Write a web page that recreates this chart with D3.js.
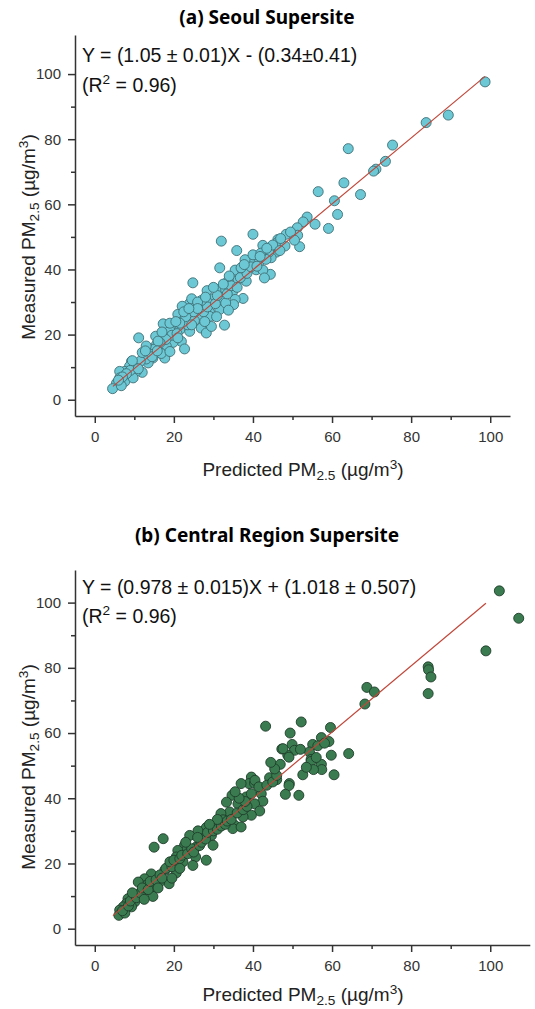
<!DOCTYPE html>
<html>
<head>
<meta charset="utf-8">
<script src="https://cdn.jsdelivr.net/npm/d3@7"></script>
<style>
  body { margin: 0; background: #fff; }
  text { font-family: "Liberation Sans", Arial, sans-serif; fill: #222; }
</style>
</head>
<body>
<svg id="chart" width="535" height="1009"></svg>
<script>
// ---- data ----
const seoulPredicted = [98.7,89.4,83.8,75.3,64.1,73.5,71.1,70.5,63.0,56.5,67.2,60.6,61.4,53.7,52.7,55.7,51.2,59.1,48.4,51.3,46.3,46.3,48.1,51.8,45.9,44.6,44.4,44.2,
  40.0,32.0,42.5,44.0,35.9,39.6,41.5,43.3,31.6,35.5,37.3,40.8,42.5,42.9,24.8,38.3,36.2,33.7,31.4,28.4,33.1,34.9,37.5,35.5,35.1,32.0,30.0,28.7,25.7,24.0,22.1,26.7,29.0,31.6,33.1,32.8,
  23.1,21.0,22.7,26.9,29.0,20.2,24.0,26.9,28.2,18.9,21.5,17.3,11.1,15.4,17.7,21.9,22.7,19.8,18.1,15.6,13.9,12.6,16.4,14.7,17.7,16.8,13.5,10.9,12.0,9.3,10.5,8.8,7.6,6.3,6.3,8.8,7.6,5.5,4.5,6.7,9.7,
  19.5,20.8,23.5,25.2,27.5,28.5,30.5,31.0,33.5,34.5,36.8,38.5,39.5,41.0,27.0,25.0,23.0,21.5,18.0,16.5,15.0,14.0,13.0,11.5,10.0,9.0,8.0,7.0,6.0,12.0,14.5,16.0,19.0,22.5,24.5,26.0,30.0,32.5,37.0,38.0,40.0,42.0,45.0,47.0,49.5,50.5,46.8,29.5,27.8,33.8,36.0,19.0,11.0,17.0,13.0,9.5,21.0,24.5,30.8,
  26.0,28.0,20.5,23.8,34.0,37.8,41.8,43.5,15.8,12.8];
const seoulMeasured = [97.6,87.4,85.1,78.2,77.1,73.2,70.8,70.2,66.6,63.9,63.0,61.1,56.9,56.1,54.6,53.9,52.8,52.6,50.8,50.5,49.2,48.4,47.2,47.0,45.3,43.6,38.5,46.2,
  50.8,48.7,47.4,45.3,45.8,42.8,42.1,43.1,40.5,39.8,39.9,39.9,39.8,37.4,35.9,36.4,36.9,36.4,33.8,33.5,33.8,33.3,31.1,30.8,29.2,30.3,31.0,29.7,29.7,29.6,28.7,27.7,26.9,27.7,29.7,22.9,
  26.9,26.2,24.8,25.1,25.6,23.1,21.0,22.0,20.5,21.5,21.5,23.3,19.0,19.5,19.0,17.9,15.6,17.6,16.4,16.9,15.2,13.8,14.6,12.8,12.8,14.2,11.3,10.8,8.4,11.8,8.7,10.3,8.7,8.7,6.7,7.2,5.6,5.1,3.4,4.3,6.7,
  19.8,20.3,23.0,24.3,27.0,28.5,29.5,32.0,32.5,35.0,37.5,38.8,40.8,41.0,30.5,27.0,25.5,23.5,18.5,17.5,15.5,14.0,12.5,11.8,10.0,9.0,8.0,7.0,6.0,14.5,13.2,18.0,23.5,27.0,31.0,30.0,34.5,35.5,40.5,43.0,44.5,45.0,47.5,49.5,51.5,49.0,45.8,22.5,24.0,27.5,34.5,14.8,9.5,20.8,16.5,12.0,19.0,23.0,25.5,
  28.0,31.5,24.0,28.0,38.0,41.5,44.0,46.5,15.0,15.0];

const centralPredicted = [102.3,107.2,98.9,84.3,84.4,85.0,84.3,68.8,70.7,68.3,52.2,59.6,49.4,57.3,59.2,55.1,56.4,58.1,49.9,47.3,50.5,48.8,54.3,59.8,64.2,54.7,49.1,54.7,57.3,57.4,55.3,60.5,52.6,46.9,46.0,49.2,49.1,48.2,51.6,44.2,43.2,47.6,
  39.6,39.0,40.4,34.7,33.3,38.3,39.6,42.1,42.5,40.4,36.2,41.7,39.6,37.5,34.1,31.9,32.4,30.7,35.4,34.9,37.0,28.2,26.1,24.0,29.5,27.4,29.9,28.2,25.7,22.7,25.5,24.8,23.1,21.0,20.6,22.3,17.3,15.0,18.9,17.7,20.6,18.8,16.4,14.3,12.6,15.2,12.6,14.7,11.8,10.1,10.1,8.4,8.0,9.3,7.2,6.3,6.1,7.6,13.0,11.0,
  7.0,8.5,9.0,10.5,11.5,12.0,13.5,14.0,15.5,16.5,17.0,18.0,19.5,19.0,20.0,21.5,22.0,23.5,24.5,25.0,26.5,27.0,28.0,28.5,30.0,31.0,32.0,33.0,33.5,34.5,36.0,37.5,38.5,38.0,36.5,35.5,37.0,40.5,41.5,43.5,45.0,46.0,45.5,44.5,53.5,56.0,52.0,26.0,23.0,21.5,16.0,19.5,9.5,12.5,31.0,29.0];
const centralMeasured = [103.6,95.2,85.2,80.3,79.4,77.2,72.1,74.0,72.6,68.9,63.4,61.7,60.0,58.6,57.4,56.5,56.1,56.9,56.5,55.1,54.7,53.2,54.2,53.2,53.7,51.9,52.6,51.3,50.4,48.8,48.8,47.2,47.2,50.4,45.7,44.5,43.9,41.2,40.9,46.3,62.1,55.2,
  46.5,44.5,44.6,40.9,38.8,40.4,41.4,41.4,39.1,38.3,38.3,36.1,34.8,34.3,35.8,35.3,33.4,31.7,31.7,30.7,31.2,31.0,30.0,28.6,28.6,27.6,25.6,21.0,25.1,25.6,22.0,19.4,24.0,24.0,22.0,20.5,27.6,25.0,19.4,17.9,17.1,13.8,14.3,16.8,15.3,12.8,11.7,9.9,9.9,10.2,8.2,9.2,7.7,6.7,6.7,5.7,4.1,4.8,13.3,14.3,
  5.5,7.0,8.5,9.5,11.0,12.5,12.0,14.5,15.0,16.5,15.5,18.5,19.0,20.5,21.0,21.5,22.5,23.0,24.5,23.5,25.5,26.5,27.5,29.5,30.0,30.5,31.5,32.0,33.0,33.5,35.5,36.5,37.5,39.0,40.0,42.0,44.5,45.5,43.5,44.0,45.0,47.0,49.0,51.0,49.5,52.5,55.0,28.0,26.5,18.5,12.5,15.5,11.0,9.0,33.5,32.0];

// regression line end points (predicted, measured)
const seoulFitX = [4.6, 98.7];
const seoulFitY = [4.1, 99.3];
const centralFitX = [4.6, 98.9];
const centralFitY = [4.0, 99.8];

const majorTicks = [0, 20, 40, 60, 80, 100];
const minorTicks = [10, 30, 50, 70, 90];

const titles = ["(a) Seoul Supersite", "(b) Central Region Supersite"];
const equations = [
  ["Y = (1.05 \u00b1 0.01)X - (0.34\u00b10.41)", "0.96"],
  ["Y = (0.978 \u00b1 0.015)X + (1.018 \u00b1 0.507)", "0.96"]
];

const svg = d3.select("#chart");

function addUnitLabel(sel, prefix) {
  sel.append("tspan").text(prefix + "PM");
  sel.append("tspan").attr("font-size", "72%").attr("dy", 4).text("2.5");
  sel.append("tspan").attr("dy", -4).text(" (\u00b5g/m");
  sel.append("tspan").attr("font-size", "72%").attr("dy", -7).text("3");
  sel.append("tspan").attr("dy", 7).text(")");
}

function drawPanel(o) {
  const x = d3.scaleLinear().domain(o.xDom).range([75, o.xRight]);
  const y = d3.scaleLinear().domain(o.yDom).range([o.bottom, o.top]);
  const g = svg.append("g");

  // title
  g.append("text")
    .attr("x", 267).attr("y", o.titleY)
    .attr("text-anchor", "middle")
    .style("font-family", '"Noto Sans", "Open Sans", sans-serif')
    .style("font-weight", 700)
    .style("font-size", "19px")
    .style("fill", "#000")
    .text(o.title);

  // minor ticks
  g.append("g").attr("transform", `translate(0,${o.bottom})`)
    .call(d3.axisBottom(x).tickValues(minorTicks).tickSize(4).tickFormat(""))
    .call(a => a.select(".domain").remove());
  g.append("g").attr("transform", "translate(75,0)")
    .call(d3.axisLeft(y).tickValues(minorTicks).tickSize(4).tickFormat(""))
    .call(a => a.select(".domain").remove());

  // major ticks + labels
  const xa = g.append("g").attr("transform", `translate(0,${o.bottom})`)
    .call(d3.axisBottom(x).tickValues(majorTicks).tickSize(7).tickSizeOuter(0).tickPadding(8));
  const ya = g.append("g").attr("transform", "translate(75,0)")
    .call(d3.axisLeft(y).tickValues(majorTicks).tickSize(7).tickSizeOuter(0).tickPadding(7));
  [xa, ya].forEach(a => {
    a.selectAll("path, line").attr("stroke", "#333").attr("stroke-width", 1.5);
    a.selectAll("text").style("font-size", "15px").style("fill", "#333")
      .style("font-family", '"Liberation Sans", Arial, sans-serif');
  });
  g.selectAll("line").attr("stroke", "#333").attr("stroke-width", 1.5);

  // points
  const pts = o.xs.map((v, i) => [v, o.ys[i]]);
  g.append("g").selectAll("circle")
    .data(pts).enter().append("circle")
    .attr("cx", d => x(d[0]))
    .attr("cy", d => y(d[1]))
    .attr("r", 5)
    .attr("fill", o.fill)
    .attr("stroke", o.stroke)
    .attr("stroke-width", 0.9);

  // regression line
  g.append("line")
    .attr("x1", x(o.fitX[0])).attr("y1", y(o.fitY[0]))
    .attr("x2", x(o.fitX[1])).attr("y2", y(o.fitY[1]))
    .attr("stroke", "#c0473a").attr("stroke-width", 1.2);

  // equation
  g.append("text").attr("x", 82).attr("y", o.eqY[0])
    .style("font-size", "19.5px").style("fill", "#111")
    .text(o.eq[0]);
  const r2 = g.append("text").attr("x", 82).attr("y", o.eqY[1])
    .style("font-size", "19.5px").style("fill", "#111");
  r2.append("tspan").text("(R");
  r2.append("tspan").attr("font-size", "70%").attr("dy", -8).text("2");
  r2.append("tspan").attr("dy", 8).text(" = " + o.eq[1] + ")");

  // axis titles
  const xt = g.append("text").attr("x", 303).attr("y", o.xTitleY)
    .attr("text-anchor", "middle").style("font-size", "19px").style("fill", "#222");
  addUnitLabel(xt, "Predicted ");
  const yt = g.append("text")
    .attr("transform", `translate(35,${o.yTitleC}) rotate(-90)`)
    .attr("text-anchor", "middle").style("font-size", "19px").style("fill", "#222");
  addUnitLabel(yt, "Measured ");
}

drawPanel({
  title: titles[0], titleY: 24,
  xs: seoulPredicted, ys: seoulMeasured, fitX: seoulFitX, fitY: seoulFitY,
  xDom: [-5, 105], xRight: 510, yDom: [-5, 112], bottom: 416, top: 35,
  fill: "#6cc8d4", stroke: "#3f6f76", eq: equations[0], eqY: [62, 92],
  xTitleY: 476, yTitleC: 237
});
drawPanel({
  title: titles[1], titleY: 542,
  xs: centralPredicted, ys: centralMeasured, fitX: centralFitX, fitY: centralFitY,
  xDom: [-5, 110], xRight: 529.8, yDom: [-5, 110], bottom: 945, top: 570,
  fill: "#3a7c50", stroke: "#1f3d2a", eq: equations[1], eqY: [594, 623],
  xTitleY: 1001, yTitleC: 767
});
</script>
</body>
</html>
